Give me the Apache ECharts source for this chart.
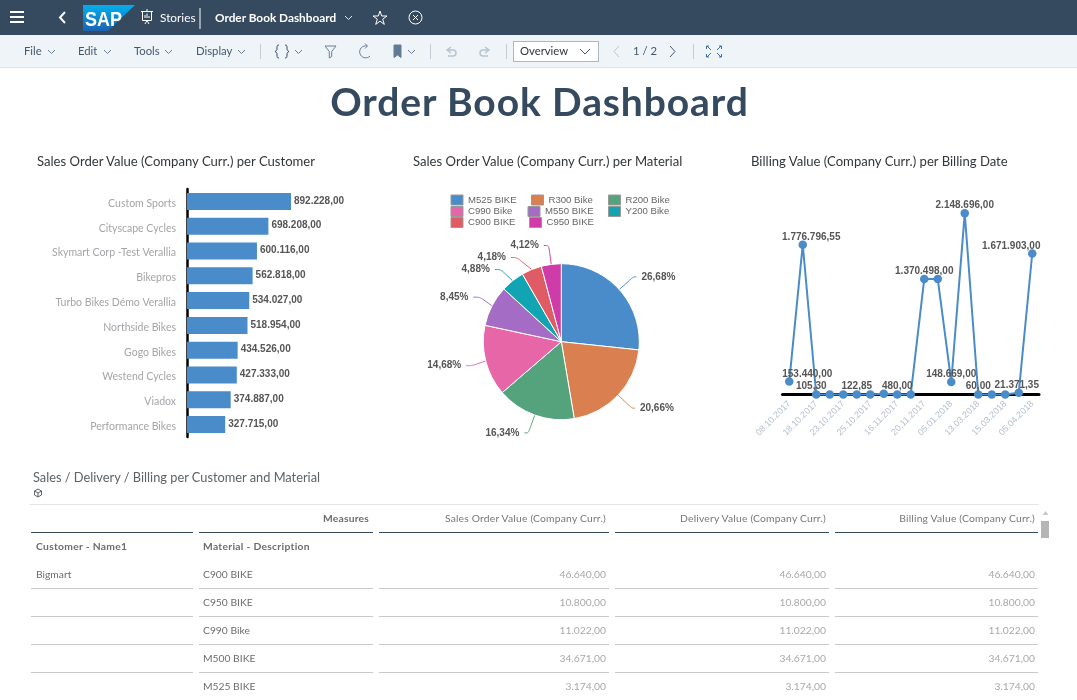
<!DOCTYPE html>
<html>
<head>
<meta charset="utf-8">
<title>Order Book Dashboard</title>
<script src="https://cdn.jsdelivr.net/npm/echarts@6/dist/echarts.min.js"></script>
<style>
  html, body { margin: 0; width: 1077px; height: 700px; overflow: hidden; background: #fff; font-family: Lato, "Open Sans", sans-serif; }
  .abs { position: absolute; white-space: nowrap; }
  #shell { position: absolute; left: 0; top: 0; width: 1077px; height: 35px; background: #354a5f; color: #fff; }
  #tools { position: absolute; left: 0; top: 35px; width: 1077px; height: 32px; background: #eff4f9; border-bottom: 1px solid #d9e3ee; color: #44586c; font-size: 12px; }
  #icons { position: absolute; left: 0; top: 0; z-index: 5; }
  #pageTitle { left: 0; width: 1079px; top: 78px; text-align: center; font-size: 39px; font-weight: 700; color: #354a5f; letter-spacing: .9px; }
  .chartTitle { top: 153px; font-size: 13.1px; color: #32363a; }
  .bar1 { font-size: 11.8px; color: #fff; z-index: 6; top: 10px; }
  .bar2 { font-size: 11.3px; color: #44586c; z-index: 6; top: 44px; }
  #chart { position: absolute; left: 0; top: 0; width: 1077px; height: 700px; }
  #tableTitle { left: 33px; top: 469px; font-size: 12.8px; color: #5c6268; }
  #rule { position: absolute; left: 30px; top: 504px; width: 1009px; height: 1px; background: #e5e5e5; }
  #grid { position: absolute; left: 25px; top: 505px; border-collapse: separate; border-spacing: 6px 0; table-layout: fixed; font-size: 10.3px; color: #6a6d70; }
  #grid td { padding: 0 3px 2px 4px; height: 25px; border-bottom: 1px solid #c9c9c9; overflow: hidden; white-space: nowrap; box-sizing: content-box; }
  #grid tr.h1 td { height: 25px; border-bottom: 1px solid #354a5f; text-align: right; color: #74777a; letter-spacing: .2px; }
  #grid tr.h1 td.m { font-weight: 700; color: #6a6d70; padding-right: 4px; }
  #grid tr.h2 td { height: 26px; border-bottom: 0; font-weight: 700; color: #6a6d70; letter-spacing: .3px; }
  #grid td.num { text-align: right; color: #a6a8aa; }
  #grid td:first-child { padding-left: 5px; }
  #scrollThumb { position: absolute; left: 1041px; top: 521px; width: 8px; height: 17px; background: #b5b5b5; }
</style>
</head>
<body>
<div id="shell"></div>
<div id="tools"></div>
<svg id="icons" width="1077" height="68" fill="none">
  <g stroke="#fff" stroke-width="2"><path d="M10 12h14M10 17h14M10 22h14"/></g>
  <path d="M65 12l-5 5.500 5 5.500" stroke="#fff" stroke-width="2"/>
  <defs><linearGradient id="sapG" x1="0" y1="0" x2="0" y2="1"><stop offset="0" stop-color="#00b0ee"/><stop offset="1" stop-color="#1c62b0"/></linearGradient></defs>
  <path d="M83 5h52L108 31H83z" fill="url(#sapG)"/>
  <text x="85" y="26" font-family="Liberation Sans" font-weight="700" font-size="21" textLength="37" lengthAdjust="spacingAndGlyphs" fill="#fff">SAP</text>
  <g stroke="#fff" stroke-width="1"><path d="M141 11.500h12M142.500 11.500v9h9v-9M147 9v2M145 24l2-3.500 2 3.500M145 18v-3M147 18v-4.500M149 18v-2"/></g>
  <path d="M200 8v21" stroke="#fff"/>
  <path d="M345 16l3.500 3.500 3.500-3.500" stroke="#dfe6ec"/>
  <path d="M380 11l1.700 5h5.300l-4.300 3.200 1.600 5.200-4.300-3.200-4.300 3.200 1.600-5.200-4.300-3.200h5.300z" stroke="#fff"/>
  <g stroke="#fff"><circle cx="415.500" cy="17.500" r="6.500"/><path d="M413 15l5 5M418 15l-5 5"/></g>
  <g stroke="#6a7d90">
    <path d="M48 50l3.500 3.500 3.500-3.500M104 50l3.500 3.500 3.500-3.500M165 50l3.500 3.500 3.500-3.500M238 50l3.500 3.500 3.500-3.500M295 50l3.500 3.500 3.500-3.500M408 50l3.500 3.500 3.500-3.500"/>
    <path d="M260.500 44v15M430.500 44v15M506.500 44v15M693.500 44v15" stroke="#c3ccd5"/>
    <path d="M279 45c-2 0-2 1-2 3s0 2.500-2 3.500c2 1 2 1.500 2 3.500s0 3 2 3M285 45c2 0 2 1 2 3s0 2.500 2 3.500c-2 1-2 1.500-2 3.500s0 3-2 3" stroke="#354a5f"/>
    <path d="M325 46h11l-4.300 5.500v5l-2.400 1.500v-6.500z"/>
    <path d="M370 56a6 6 0 1 1-3-10M365 43.500l2.500 2.500-2.500 2.500"/>
    <path d="M394 45h7v12.500l-3.500-2.500-3.500 2.500z" fill="#5d7a96"/>
    <path d="M451 47l-4 3 4 3M447 50h6a3 3 0 0 1 0 6h-5M485 47l4 3-4 3M489 50h-6a3 3 0 0 0 0 6h5" stroke="#b9c4cf" stroke-width="1.500"/>
    <path d="M619 46l-5 5.500 5 5.500" stroke="#b9c4cf"/>
    <path d="M670 46l5 5.500-5 5.500" stroke="#44586c"/>
    <path d="M709 46h-2.500v3M719 46h2.500v3M709 57h-2.500v-3M719 57h2.500v-3M707 46l4 4M721 46l-4 4M707 57l4-4M721 57l-4-4" stroke="#3f6f9f"/>
  </g>
  <rect x="513.500" y="41.500" width="85" height="20" fill="#fff" stroke="#aeb6be"/>
  <path d="M580 49l5 5 5-5" stroke="#44586c"/>
</svg>
<div class="abs bar1" style="left:160px">Stories</div>
<div class="abs bar1" style="left:215px;font-weight:700">Order Book Dashboard</div>
<div class="abs bar2" style="left:24px">File</div>
<div class="abs bar2" style="left:78px">Edit</div>
<div class="abs bar2" style="left:134px">Tools</div>
<div class="abs bar2" style="left:196px">Display</div>
<div class="abs bar2" style="left:520px;color:#32363a">Overview</div>
<div class="abs bar2" style="left:633px">1 / 2</div>

<div id="chart"></div>
<div class="abs" id="pageTitle">Order Book Dashboard</div>
<div class="abs chartTitle" style="left:37px">Sales Order Value (Company Curr.) per Customer</div>
<div class="abs chartTitle" style="left:413px">Sales Order Value (Company Curr.) per Material</div>
<div class="abs chartTitle" style="left:751px">Billing Value (Company Curr.) per Billing Date</div>

<div class="abs" id="tableTitle">Sales / Delivery / Billing per Customer and Material</div>
<svg class="abs" style="left:33px;top:488px" width="10" height="10" fill="none" stroke="#5c6268"><path d="M5 1l3.500 2v4L5 9 1.500 7V3zM1.500 3L5 5l3.500-2M5 5v4"/></svg>
<div id="rule"></div>
<table id="grid"></table>
<div id="scrollThumb"></div>
<svg class="abs" style="left:1042px;top:511px" width="7" height="5"><path d="M3.500 0l3 4h-6z" fill="#c8c8c8"/></svg>

<script>
const customers = ['Custom Sports', 'Cityscape Cycles', 'Skymart Corp -Test Verallia', 'Bikepros', 'Turbo Bikes Démo Verallia', 'Northside Bikes', 'Gogo Bikes', 'Westend Cycles', 'Viadox', 'Performance Bikes']
const customerValues = [892228, 698208, 600116, 562818, 534027, 518954, 434526, 427333, 374887, 327715]

const materials = ['M525 BIKE', 'R300 Bike', 'R200 Bike', 'C990 Bike', 'M550 BIKE', 'Y200 Bike', 'C900 BIKE', 'C950 BIKE']
const materialShares = [26.68, 20.66, 16.34, 14.68, 8.45, 4.88, 4.18, 4.12]
const materialColors = ['#4a8bc9', '#d97f50', '#54a37d', '#e666a8', '#a56cc5', '#11a4b2', '#e05c64', '#cf3ba9']

const billingDates = ['08.10.2017', '12.10.2017', '18.10.2017', '20.10.2017', '23.10.2017', '24.10.2017', '25.10.2017', '10.11.2017', '16.11.2017', '17.11.2017', '20.11.2017', '12.12.2017', '05.01.2018', '20.02.2018', '13.03.2018', '14.03.2018', '15.03.2018', '28.03.2018', '05.04.2018']
const billingValues = [153440, 1776796.55, 105.3, 300, 250, 122.85, 200, 9000, 480, 150, 1370498, 1370498, 148669, 2148696, 60, 90, 110, 21371.35, 1671903]
const labelledDates = [0, 1, 2, 5, 8, 10, 12, 13, 14, 17, 18]

const tableHead = ['Sales Order Value (Company Curr.)', 'Delivery Value (Company Curr.)', 'Billing Value (Company Curr.)']
const tableMaterials = ['C900 BIKE', 'C950 BIKE', 'C990 Bike', 'M500 BIKE', 'M525 BIKE']
const tableValues = [46640, 10800, 11022, 34671, 3174]

const fmt = v => v.toLocaleString('de-DE', { minimumFractionDigits: 2, maximumFractionDigits: 2 })

// table
const colWidths = [155, 167, 223, 207, 196]
let html = '<colgroup>' + colWidths.map(w => `<col style="width:${w + 7}px">`).join('') + '</colgroup>'
html += `<tr class="h1"><td></td><td class="m">Measures</td>${tableHead.map(h => `<td>${h}</td>`).join('')}</tr>`
html += '<tr class="h2"><td>Customer - Name1</td><td>Material - Description</td><td></td><td></td><td></td></tr>'
tableMaterials.forEach((m, i) => {
  const v = fmt(tableValues[i])
  html += `<tr><td>${i === 0 ? 'Bigmart' : ''}</td><td>${m}</td><td class="num">${v}</td><td class="num">${v}</td><td class="num">${v}</td></tr>`
})
document.getElementById('grid').innerHTML = html

const chart = echarts.init(document.getElementById('chart'))

// the legend columns are not quite aligned in the original, so every entry gets its own slot
const legendLeft = [450.5, 531, 608, 450.5, 527.5, 608, 450.5, 529]
const legendTop = [194.5, 194.5, 194.5, 206, 206, 206, 217, 217]
// pie label elbow length per slice
const pieElbow = [3, 3, 4, 6, 6.5, 6, 6, 5]
// nudges for the line labels, the long ones are pushed away from each other
const labelNudge = { 0: 18, 1: 8.5, 2: -5, 17: -2, 18: -21 }

chart.setOption({
  animation: false,
  legend: materials.map((name, i) => ({
    left: legendLeft[i],
    top: legendTop[i],
    data: [name],
    icon: 'rect',
    itemWidth: 12,
    itemHeight: 10,
    padding: 0,
    selectedMode: false,
    textStyle: { fontFamily: 'Liberation Sans', fontSize: 9.6, color: '#666' },
    itemStyle: { borderColor: '#999', borderWidth: 1 }
  })),
  grid: [
    { left: 187, top: 189, width: 300, height: 248 },
    { left: 782.5, top: 213.3, width: 256.5, height: 181.2 }
  ],
  xAxis: [
    { gridIndex: 0, type: 'value', min: 0, max: 2573700, show: false },
    {
      gridIndex: 1,
      type: 'category',
      data: billingDates,
      axisLine: { lineStyle: { color: '#000', width: 3 } },
      axisTick: { show: false },
      axisLabel: { interval: 1, rotate: 45, margin: 8, color: '#b4bfce', fontFamily: 'Liberation Sans', fontSize: 9 }
    }
  ],
  yAxis: [
    {
      gridIndex: 0,
      type: 'category',
      inverse: true,
      data: customers,
      axisLine: { lineStyle: { color: '#000', width: 2.5 } },
      axisTick: { show: false },
      // small line box hung from the band centre, the names sit 2px under the bar middle
      axisLabel: { margin: 11, verticalAlign: 'top', lineHeight: 4, color: '#a3a5a8', fontFamily: 'Lato', fontSize: 10.5 }
    },
    { gridIndex: 1, type: 'value', min: 0, max: 2148696, show: false }
  ],
  series: [
    {
      type: 'bar',
      xAxisIndex: 0,
      yAxisIndex: 0,
      barWidth: 17,
      data: customerValues,
      itemStyle: { color: '#4a8bc9' },
      label: {
        show: true,
        position: 'right',
        distance: 3,
        offset: [0, -0.5],
        formatter: p => fmt(p.value),
        fontFamily: 'Liberation Sans',
        fontSize: 10,
        fontWeight: 'bold',
        color: '#555'
      }
    },
    {
      type: 'pie',
      center: [561.3, 341.7],
      radius: 78,
      startAngle: 90,
      clockwise: true,
      data: materials.map((name, i) => ({
        name,
        value: materialShares[i],
        itemStyle: { color: materialColors[i] },
        labelLine: { length2: pieElbow[i], lineStyle: { color: materialColors[i] } }
      })),
      itemStyle: { borderColor: '#fff', borderWidth: 1 },
      label: {
        formatter: p => p.value.toFixed(2).replace('.', ',') + '%',
        fontFamily: 'Liberation Sans',
        fontSize: 10,
        fontWeight: 'bold',
        color: '#555'
      },
      labelLine: { show: true, length: 19, smooth: 0.3, lineStyle: { width: 1 } }
    },
    {
      type: 'line',
      xAxisIndex: 1,
      yAxisIndex: 1,
      data: billingValues.map((value, i) => ({
        value,
        label: { show: labelledDates.includes(i) }
      })),
      symbol: 'circle',
      symbolSize: 8.5,
      clip: false,
      lineStyle: { color: '#4a8bc9', width: 2 },
      itemStyle: { color: '#4a8bc9' },
      label: {
        position: 'top',
        distance: 3,
        formatter: p => fmt(p.value),
        fontFamily: 'Liberation Sans',
        fontSize: 10,
        fontWeight: 'bold',
        color: '#555'
      },
      labelLayout: p => ({ dx: labelNudge[p.dataIndex] || 0, dy: 4.5 })
    }
  ]
})
</script>
</body>
</html>
